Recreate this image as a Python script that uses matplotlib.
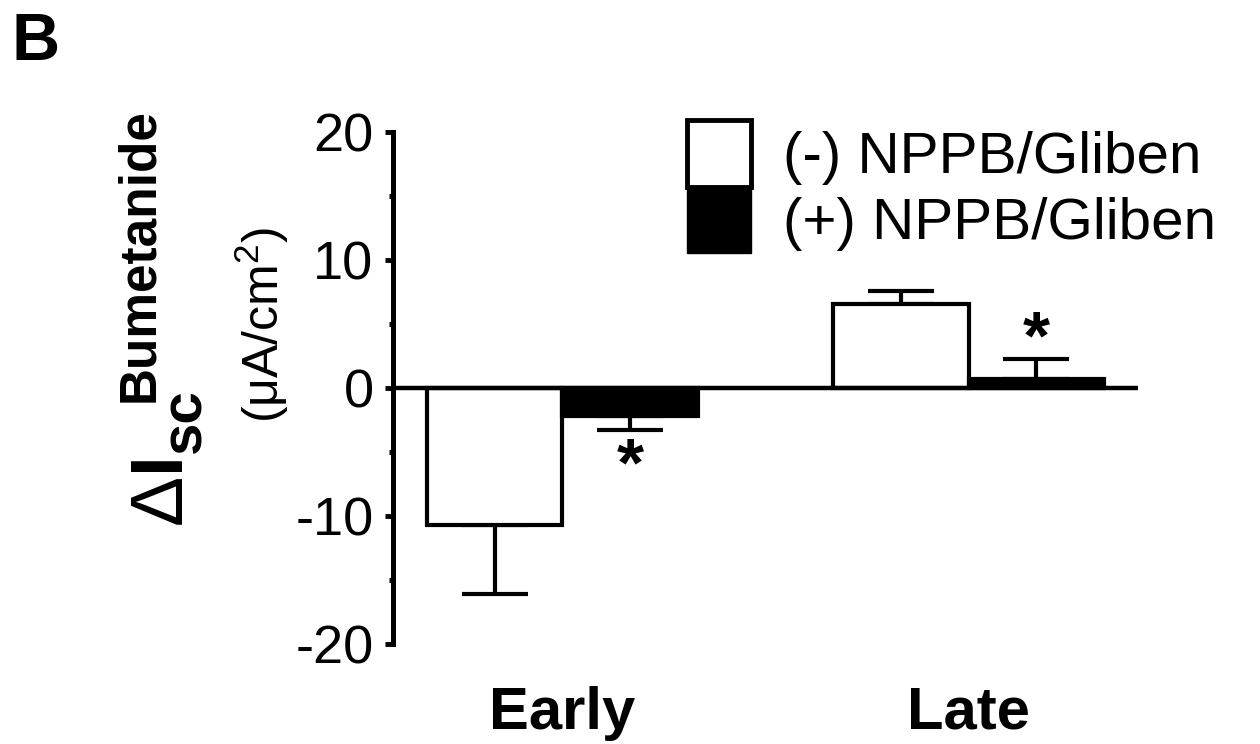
"""Bar chart: bumetanide-sensitive Isc, early vs late, with/without NPPB/Gliben."""

import matplotlib.pyplot as plt
import numpy as np
from matplotlib.patches import Rectangle
from matplotlib.ticker import MultipleLocator

plt.rcParams["font.family"] = ["Liberation Sans", "DejaVu Sans"]
plt.rcParams["axes.unicode_minus"] = False
plt.rcParams["mathtext.fontset"] = "custom"
plt.rcParams["mathtext.rm"] = "Liberation Sans"
plt.rcParams["mathtext.bf"] = "Liberation Sans:bold"
plt.rcParams["mathtext.it"] = "Liberation Sans:italic"

# data
groups = ["Early", "Late"]
series = ["(-) NPPB/Gliben", "(+) NPPB/Gliben"]
minus_mean = [-10.7, 6.6]
minus_sem = [5.4, 1.0]
plus_mean = [-2.2, 0.7]
plus_sem = [1.1, 1.6]
plus_significant = [True, True]
y_ticks = [-20, -10, 0, 10, 20]


def one_sided(means, sems):
    """Error bars pointing away from zero only."""
    lower = [s if m < 0 else 0 for m, s in zip(means, sems)]
    upper = [s if m >= 0 else 0 for m, s in zip(means, sems)]
    return [lower, upper]


W, H = 1260, 744
fig = plt.figure(figsize=(W / 100, H / 100), dpi=100)
ax = fig.add_axes([393 / W, 1 - 644 / H, (1138 - 393) / W, (644 - 132) / H])

x = np.arange(len(groups)) * 3.0
bw = 1.0
lw = 3

ax.bar(x - bw / 2, minus_mean, bw, color="white", edgecolor="black", linewidth=lw, zorder=3)
ax.bar(x + bw / 2, plus_mean, bw, color="black", edgecolor="black", linewidth=lw, zorder=3)
ax.errorbar(x - bw / 2, minus_mean, yerr=one_sided(minus_mean, minus_sem), fmt="none",
            ecolor="black", elinewidth=lw, capsize=23.5, capthick=lw, zorder=2)
ax.errorbar(x + bw / 2, plus_mean, yerr=one_sided(plus_mean, plus_sem), fmt="none",
            ecolor="black", elinewidth=lw, capsize=23.5, capthick=lw, zorder=2)

# significance stars beyond the error bar tips
for xi, m, s, sig in zip(x + bw / 2, plus_mean, plus_sem, plus_significant):
    if not sig:
        continue
    tip = m - s if m < 0 else m + s
    off = -27 if m < 0 else 13
    ax.annotate("*", (xi, tip), xytext=(0, off), textcoords="offset points",
                ha="center", va="center", fontsize=50, fontweight="bold")

ax.axhline(0, color="black", linewidth=3.2, zorder=4)

ax.set_xlim(-1.25, 4.25)
ax.set_ylim(-20, 20)
ax.set_yticks(y_ticks)
ax.set_yticklabels([str(t) for t in y_ticks])
ax.yaxis.set_minor_locator(MultipleLocator(5))
ax.tick_params(axis="y", which="major", length=6, width=3.5, labelsize=39, pad=8)
ax.tick_params(axis="y", which="minor", length=3, width=3.5)
ax.set_xticks(x)
ax.set_xticklabels(groups, fontsize=43, fontweight="bold")
ax.tick_params(axis="x", length=0, pad=30)

for side in ["top", "right", "bottom"]:
    ax.spines[side].set_visible(False)
ax.spines["left"].set_linewidth(3.6)

handles = [Rectangle((0, 0), 1, 1, facecolor="white", edgecolor="black", linewidth=3.5),
           Rectangle((0, 0), 1, 1, facecolor="black", edgecolor="black", linewidth=1)]
ax.legend(handles, series, loc="upper left", bbox_to_anchor=(687 / W, 1 - 120 / H),
          bbox_transform=fig.transFigure, frameon=False, fontsize=42,
          handlelength=1.1, handleheight=1.38, handletextpad=0.55,
          labelspacing=0, borderpad=0, borderaxespad=0)

# y label pieces: ΔI_sc^Bumetanide and the unit line
rot = dict(rotation=90, rotation_mode="anchor", ha="left", va="baseline")
fig.text(183 / W, 1 - 527 / H, r"$\Delta\mathbf{I}$", fontsize=54, **rot)
fig.text(200 / W, 1 - 453 / H, "sc", fontsize=42, fontweight="bold", **rot)
fig.text(153 / W, 1 - 402 / H, "Bumetanide", fontsize=37, fontweight="bold", **rot)
fig.text(262 / W, 1 - 325 / H, r"(μA/cm$^{2}$)", fontsize=36, rotation=90,
         ha="center", va="center")

fig.text(12 / W, 1 - 60 / H, "B", fontsize=48, fontweight="bold", ha="left", va="baseline")

fig.savefig("out.png", dpi=100)
